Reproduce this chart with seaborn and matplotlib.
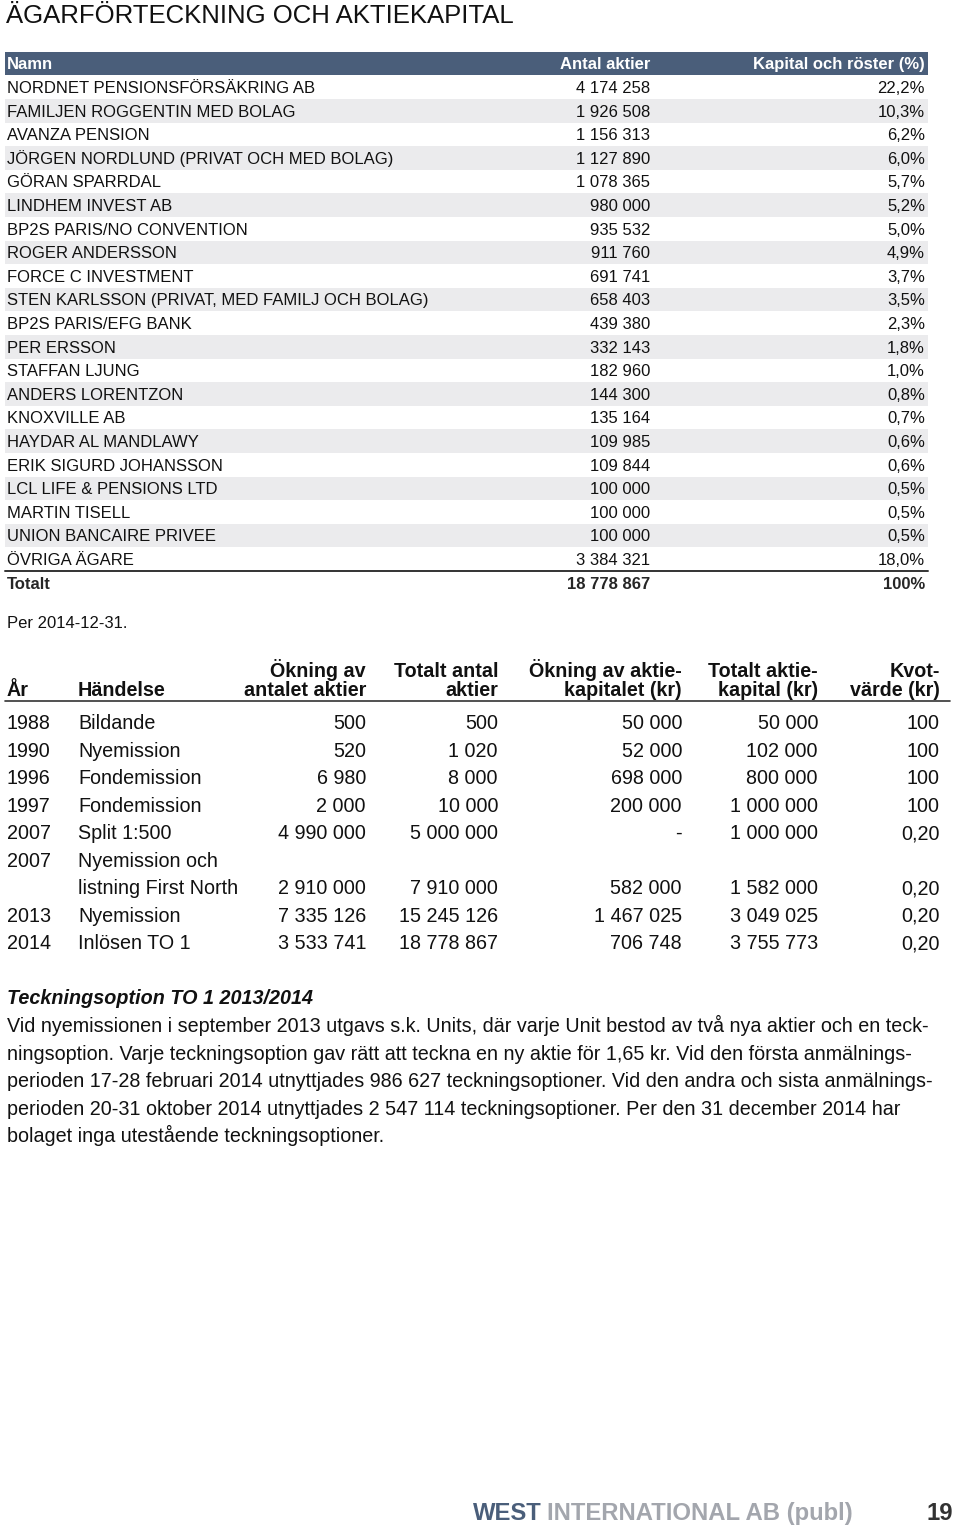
import matplotlib
matplotlib.use("Agg")
import matplotlib.pyplot as plt
import seaborn as sns

# --- data ---------------------------------------------------------------
owners = ["NORDNET PENSIONSFÖRSÄKRING AB", "FAMILJEN ROGGENTIN MED BOLAG", "AVANZA PENSION",
          "JÖRGEN NORDLUND (PRIVAT OCH MED BOLAG)", "GÖRAN SPARRDAL", "LINDHEM INVEST AB",
          "BP2S PARIS/NO CONVENTION", "ROGER ANDERSSON", "FORCE C INVESTMENT",
          "STEN KARLSSON (PRIVAT, MED FAMILJ OCH BOLAG)", "BP2S PARIS/EFG BANK", "PER ERSSON",
          "STAFFAN LJUNG", "ANDERS LORENTZON", "KNOXVILLE AB", "HAYDAR AL MANDLAWY",
          "ERIK SIGURD JOHANSSON", "LCL LIFE & PENSIONS LTD", "MARTIN TISELL",
          "UNION BANCAIRE PRIVEE", "ÖVRIGA ÄGARE"]
shares = ["4 174 258", "1 926 508", "1 156 313", "1 127 890", "1 078 365", "980 000", "935 532",
          "911 760", "691 741", "658 403", "439 380", "332 143", "182 960", "144 300", "135 164",
          "109 985", "109 844", "100 000", "100 000", "100 000", "3 384 321"]
pct = ["22,2%", "10,3%", "6,2%", "6,0%", "5,7%", "5,2%", "5,0%", "4,9%", "3,7%", "3,5%", "2,3%",
       "1,8%", "1,0%", "0,8%", "0,7%", "0,6%", "0,6%", "0,5%", "0,5%", "0,5%", "18,0%"]
total_shares = "18 778 867"
total_pct = "100%"

hist_head1 = ["", "", "Ökning av", "Totalt antal", "Ökning av aktie-", "Totalt aktie-", "Kvot-"]
hist_head2 = ["År", "Händelse", "antalet aktier", "aktier", "kapitalet (kr)", "kapital (kr)", "värde (kr)"]
hist_rows = [
    ["1988", "Bildande", "500", "500", "50 000", "50 000", "100"],
    ["1990", "Nyemission", "520", "1 020", "52 000", "102 000", "100"],
    ["1996", "Fondemission", "6 980", "8 000", "698 000", "800 000", "100"],
    ["1997", "Fondemission", "2 000", "10 000", "200 000", "1 000 000", "100"],
    ["2007", "Split 1:500", "4 990 000", "5 000 000", "-", "1 000 000", "0,20"],
    ["2007", "Nyemission och", "", "", "", "", ""],
    ["", "listning First North", "2 910 000", "7 910 000", "582 000", "1 582 000", "0,20"],
    ["2013", "Nyemission", "7 335 126", "15 245 126", "1 467 025", "3 049 025", "0,20"],
    ["2014", "Inlösen TO 1", "3 533 741", "18 778 867", "706 748", "3 755 773", "0,20"],
]

note_title = "Teckningsoption TO 1 2013/2014"
note_lines = [
    "Vid nyemissionen i september 2013 utgavs s.k. Units, där varje Unit bestod av två nya aktier och en teck-",
    "ningsoption. Varje teckningsoption gav rätt att teckna en ny aktie för 1,65 kr. Vid den första anmälnings-",
    "perioden 17-28 februari 2014 utnyttjades 986 627 teckningsoptioner. Vid den andra och sista anmälnings-",
    "perioden 20-31 oktober 2014 utnyttjades 2 547 114 teckningsoptioner. Per den 31 december 2014 har",
    "bolaget inga utestående teckningsoptioner.",
]

# --- style --------------------------------------------------------------
sns.set_theme(style="white")
plt.rcParams["font.family"] = ["Liberation Sans", "DejaVu Sans"]
navy = "#4a5e7a"
band = "#ebebed"
ink = "#111111"


def cap_off(pt):
    # half the cap height in pixels, so text sits centred on a row via its baseline
    return 0.716 * pt * 100 / 72 / 2


fig = plt.figure(figsize=(9.6, 15.26), dpi=100)
ax = fig.add_axes([0, 0, 1, 1])
ax.set_xlim(0, 960)
ax.set_ylim(1526, 0)
ax.axis("off")

ax.text(6, 14 + cap_off(18.5), "ÄGARFÖRTECKNING OCH AKTIEKAPITAL", fontsize=18.5,
        va="baseline", color=ink)

# owner table
fs1 = 12.0
o1 = cap_off(fs1)
rh = 23.6
y0 = 63.5
ax.axhspan(y0 - rh / 2, y0 + rh / 2, xmin=5 / 960, xmax=928 / 960, color=navy, lw=0)
ax.text(7, y0 + o1, "Namn", fontsize=fs1, weight="bold", color="white", va="baseline")
ax.text(650, y0 + o1, "Antal aktier", fontsize=fs1, weight="bold", color="white", va="baseline", ha="right")
ax.text(925, y0 + o1, "Kapital och röster (%)", fontsize=fs1, weight="bold", color="white",
        va="baseline", ha="right")
for i, (n, s, p) in enumerate(zip(owners, shares, pct)):
    y = y0 + rh * (i + 1)
    if i % 2 == 1:
        ax.axhspan(y - rh / 2, y + rh / 2, xmin=5 / 960, xmax=928 / 960, color=band, lw=0)
    ax.text(7, y + o1, n, fontsize=fs1, va="baseline", color=ink)
    ax.text(650, y + o1, s, fontsize=fs1, va="baseline", ha="right", color=ink)
    ax.text(925, y + o1, p, fontsize=fs1, va="baseline", ha="right", color=ink)
yl = y0 + rh * (len(owners) + 0.5)
ax.plot([5, 928], [yl, yl], color="#333333", lw=1.4)
yt = y0 + rh * (len(owners) + 1)
ax.text(7, yt + o1, "Totalt", fontsize=fs1, weight="bold", va="baseline")
ax.text(650, yt + o1, total_shares, fontsize=fs1, weight="bold", va="baseline", ha="right")
ax.text(925, yt + o1, total_pct, fontsize=fs1, weight="bold", va="baseline", ha="right")

ax.text(7, 622 + o1, "Per 2014-12-31.", fontsize=fs1, va="baseline", color=ink)

# history table
fs2 = 14.2
o2 = cap_off(fs2)
col_x = [7, 78, 366, 498, 682, 818, 940]
col_ha = ["left", "left", "right", "right", "right", "right", "right"]
for x, ha, h1, h2 in zip(col_x, col_ha, hist_head1, hist_head2):
    ax.text(x, 670 + o2, h1, fontsize=fs2, weight="bold", va="baseline", ha=ha, color=ink)
    ax.text(x, 689 + o2, h2, fontsize=fs2, weight="bold", va="baseline", ha=ha, color=ink)
ax.plot([5, 950], [701, 701], color="#333333", lw=1.2)
for k, row in enumerate(hist_rows):
    y = 722 + 27.5 * k
    for x, ha, v in zip(col_x, col_ha, row):
        ax.text(x, y + o2, v, fontsize=fs2, va="baseline", ha=ha, color=ink)

# note
ax.text(7, 997 + o2, note_title, fontsize=fs2, weight="bold", style="italic", va="baseline", color=ink)
for k, line in enumerate(note_lines):
    ax.text(7, 1025 + 27.5 * k + o2, line, fontsize=fs2, va="baseline", color=ink)

# footer
of = cap_off(17.2)
t = ax.text(473, 1511 + of, "WEST", fontsize=17.2, weight="bold", color=navy, va="baseline")
fig.canvas.draw()
bb = t.get_window_extent()
ax.text(473 + bb.width + 5, 1511 + of, "INTERNATIONAL AB (publ)", fontsize=17.2, weight="bold",
        color="#a3a6ad", va="baseline")
ax.text(953, 1511 + of, "19", fontsize=17.2, weight="bold", color="#333333", va="baseline", ha="right")

fig.savefig("out.png", dpi=100)
